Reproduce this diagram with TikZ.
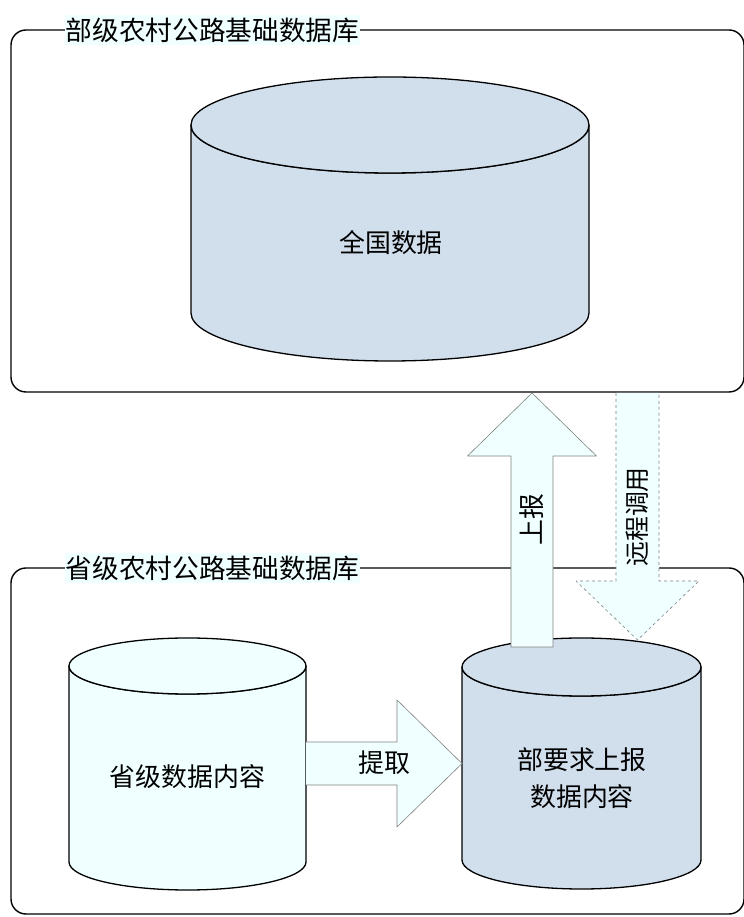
\documentclass[tikz,border=0pt]{standalone}
\usepackage{fontspec}
\setmainfont{Noto Sans CJK SC}
\definecolor{dbblue}{RGB}{209,222,236}
\definecolor{dbazure}{RGB}{240,255,255}
\definecolor{arrowgray}{RGB}{128,128,128}
\begin{document}
\begin{tikzpicture}[>=latex,line join=bevel,
  frame/.style={draw=black,line width=1.4bp,rounded corners=15bp},
  title/.style={fill=dbazure,inner xsep=0.5bp,inner ysep=0bp,minimum height=30bp,font=\fontsize{26.8}{30}\selectfont},
  cyl/.style={draw=black,line width=1.3bp},
  label/.style={inner sep=0bp,font=\fontsize{26}{37}\selectfont,align=center},
  blockarrow/.style={draw=arrowgray,line width=0.6bp,fill=dbazure},
]
\useasboundingbox (0bp,0bp) rectangle (744bp,917bp);
%%
\draw [frame] (11bp,525bp) rectangle (744bp,887bp);
  \draw [frame] (11bp,3bp) rectangle (744bp,349bp);
  \node (title_bu) at (212.5bp,887bp) [title] {部级农村公路基础数据库};
  \node (title_sheng) at (212.5bp,349bp) [title] {省级农村公路基础数据库};
%
\draw [cyl,fill=dbblue] (191bp,792bp) -- (191bp,604bp) arc[start angle=180,end angle=360,x radius=199bp,y radius=48bp] -- (589bp,792bp) arc[start angle=0,end angle=-180,x radius=199bp,y radius=48bp] -- cycle;
  \draw [cyl,fill=dbblue] (390bp,792bp) ellipse[x radius=199bp,y radius=48bp];
  \node (node_quanguo) at (391bp,674bp) [label] {全国数据};
%
\draw [cyl,fill=dbazure] (69bp,251bp) -- (69bp,55bp) arc[start angle=180,end angle=360,x radius=118.5bp,y radius=28bp] -- (306bp,251bp) arc[start angle=0,end angle=-180,x radius=118.5bp,y radius=28bp] -- cycle;
  \draw [cyl,fill=dbazure] (187.5bp,251bp) ellipse[x radius=118.5bp,y radius=28bp];
  \node (node_shengji) at (187.5bp,140bp) [label] {省级数据内容};
%
\draw [cyl,fill=dbblue] (462bp,250bp) -- (462bp,57bp) arc[start angle=180,end angle=360,x radius=119.5bp,y radius=29bp] -- (701bp,250bp) arc[start angle=0,end angle=-180,x radius=119.5bp,y radius=29bp] -- cycle;
  \draw [cyl,fill=dbblue] (581.5bp,250bp) ellipse[x radius=119.5bp,y radius=29bp];
  \node (node_buyaoqiu) at (582bp,138.5bp) [label] {部要求上报\\数据内容};
%
\draw [blockarrow] (306bp,175bp) -- (397bp,175bp) -- (397bp,217bp) -- (462bp,153.5bp) -- (397bp,90bp) -- (397bp,132bp) -- (306bp,132bp);
  \node (node_tiqu) at (384bp,154bp) [label] {提取};
  \draw [blockarrow] (511bp,270bp) -- (511bp,461bp) -- (467.5bp,461bp) -- (532bp,524bp) -- (596.5bp,461bp) -- (553bp,461bp) -- (553bp,270bp) -- cycle;
  \node (node_shangbao) at (532bp,397bp) [label,rotate=90] {上报};
  \draw [blockarrow,dashed] (616bp,524bp) -- (616bp,336bp) -- (576bp,336bp) -- (637.5bp,277bp) -- (699bp,336bp) -- (659bp,336bp) -- (659bp,524bp);
  \node (node_yuancheng) at (637bp,400bp) [label,rotate=90,font=\fontsize{25}{30}\selectfont] {远程调用};
%
\end{tikzpicture}
\end{document}
